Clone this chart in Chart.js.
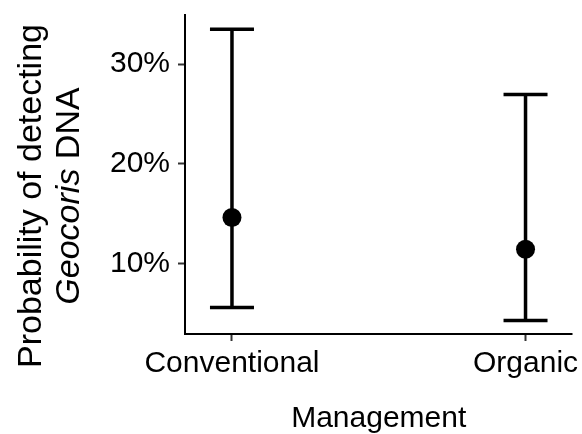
<!DOCTYPE html>
<html>
<head>
<meta charset="utf-8">
<script src="https://cdn.jsdelivr.net/npm/chart.js@4"></script>
<style>
  body { margin: 0; background: #fff; }
  canvas { display: block; }
</style>
</head>
<body>
<canvas id="chart" width="582" height="434"></canvas>
<script>
"use strict";

const categories = ["Conventional", "Organic"];
const estimate = [14.6, 11.4];
const lower = [5.55, 4.25];
const upper = [33.5, 26.95];
const yTicks = [10, 20, 30];

const fontFamily = "'Liberation Sans', Arial, sans-serif";

// error bars drawn from lower/upper through the chart scales
const errorBars = {
  id: "errorBars",
  beforeDatasetsDraw(chart) {
    const ctx = chart.ctx;
    const xs = chart.scales.x;
    const ys = chart.scales.y;
    const cap = 22;
    ctx.save();
    ctx.strokeStyle = "#000";

    // x axis line from the scale's own ends
    let yBase = ys.getPixelForValue(ys.min);
    ctx.lineWidth = 2;
    ctx.beginPath();
    ctx.moveTo(xs.getPixelForValue(xs.min) - 1, yBase);
    ctx.lineTo(xs.getPixelForValue(xs.max), yBase);
    ctx.stroke();

    ctx.lineWidth = 3.5;
    ctx.lineCap = "butt";
    for (let i = 0; i < categories.length; i++) {
      let x = xs.getPixelForValue(i + 1);
      let yLo = ys.getPixelForValue(lower[i]);
      let yHi = ys.getPixelForValue(upper[i]);
      ctx.beginPath();
      ctx.moveTo(x, yLo);
      ctx.lineTo(x, yHi);
      ctx.moveTo(x - cap, yLo);
      ctx.lineTo(x + cap, yLo);
      ctx.moveTo(x - cap, yHi);
      ctx.lineTo(x + cap, yHi);
      ctx.stroke();
    }
    ctx.restore();
  }
};

// two-line y title with italic genus name
const yTitle = {
  id: "yTitle",
  afterDraw(chart) {
    const ctx = chart.ctx;
    const cy = 196;
    const size = "34px ";
    ctx.save();
    ctx.translate(0, cy);
    ctx.rotate(-Math.PI / 2);
    ctx.fillStyle = "#000";
    ctx.textBaseline = "middle";
    ctx.textAlign = "center";
    ctx.font = size + fontFamily;
    ctx.fillText("Probability of detecting", 0, 32);

    ctx.textAlign = "left";
    ctx.font = "italic " + size + fontFamily;
    let w1 = ctx.measureText("Geocoris").width;
    ctx.font = size + fontFamily;
    let w2 = ctx.measureText(" DNA").width;
    let start = -(w1 + w2) / 2;
    ctx.font = "italic " + size + fontFamily;
    ctx.fillText("Geocoris", start, 70);
    ctx.font = size + fontFamily;
    ctx.fillText(" DNA", start + w1, 70);
    ctx.restore();
  }
};

const points = categories.map((c, i) => ({ x: i + 1, y: estimate[i] }));

new Chart(document.getElementById("chart"), {
  type: "scatter",
  data: {
    datasets: [{
      data: points,
      pointRadius: 9.5,
      pointHoverRadius: 9.5,
      pointBackgroundColor: "#000",
      pointBorderWidth: 0,
      borderWidth: 0
    }]
  },
  options: {
    responsive: false,
    animation: false,
    events: [],
    layout: { padding: { top: 15, right: 0, left: 0, bottom: 0 } },
    plugins: { legend: { display: false }, tooltip: { enabled: false } },
    scales: {
      x: {
        type: "linear",
        min: 0.84,
        max: 2.16,
        afterBuildTicks(scale) {
          scale.ticks = categories.map((c, i) => ({ value: i + 1 }));
        },
        afterFit(scale) {
          scale.height = 100;
          scale.paddingLeft = 0;
          scale.paddingRight = 9;
        },
        border: { display: false },
        grid: { drawOnChartArea: false, tickLength: 7, tickColor: "#333", tickWidth: 2 },
        ticks: {
          color: "#000",
          padding: 5,
          maxRotation: 0,
          font: { family: fontFamily, size: 30 },
          callback: (v) => categories[v - 1]
        },
        title: {
          display: true,
          text: "Management",
          color: "#000",
          padding: 0,
          font: { family: fontFamily, size: 30, lineHeight: 1 }
        }
      },
      y: {
        min: 2.9,
        max: 34.92,
        afterBuildTicks(scale) {
          scale.ticks = yTicks.map(v => ({ value: v }));
        },
        afterFit(scale) {
          scale.width = 185;
          scale.paddingTop = 0;
          scale.paddingBottom = 0;
        },
        border: { display: true, color: "#000", width: 2 },
        grid: { drawOnChartArea: false, tickLength: 7, tickColor: "#333", tickWidth: 2 },
        ticks: {
          color: "#000",
          padding: 8,
          font: { family: fontFamily, size: 30 },
          callback: (v) => v + "%"
        }
      }
    }
  },
  plugins: [errorBars, yTitle]
});
</script>
</body>
</html>
